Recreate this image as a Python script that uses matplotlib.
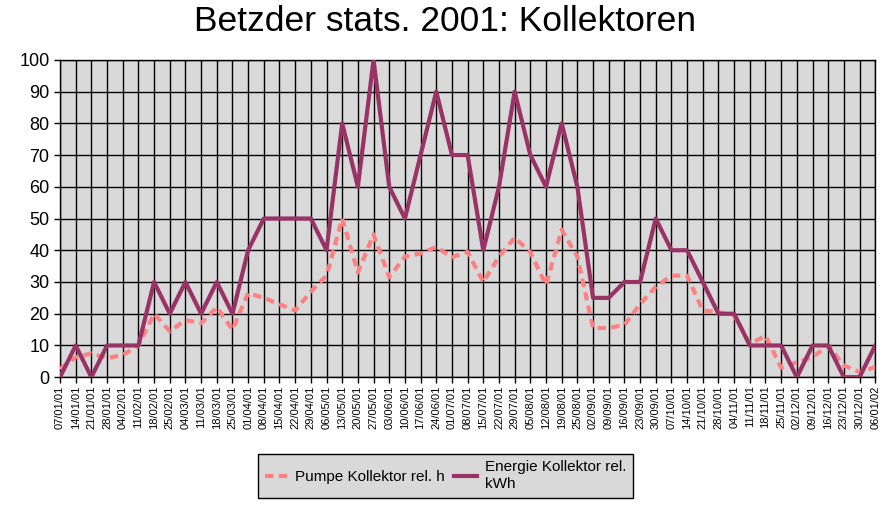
import matplotlib.pyplot as plt
import numpy as np

plt.rcParams['font.family'] = ['Liberation Sans', 'DejaVu Sans']

weeks = ['07/01/01', '14/01/01', '21/01/01', '28/01/01', '04/02/01', '11/02/01',
         '18/02/01', '25/02/01', '04/03/01', '11/03/01', '18/03/01', '25/03/01',
         '01/04/01', '08/04/01', '15/04/01', '22/04/01', '29/04/01', '06/05/01',
         '13/05/01', '20/05/01', '27/05/01', '03/06/01', '10/06/01', '17/06/01',
         '24/06/01', '01/07/01', '08/07/01', '15/07/01', '22/07/01', '29/07/01',
         '05/08/01', '12/08/01', '19/08/01', '25/08/01', '02/09/01', '09/09/01',
         '16/09/01', '23/09/01', '30/09/01', '07/10/01', '14/10/01', '21/10/01',
         '28/10/01', '04/11/01', '11/11/01', '18/11/01', '25/11/01', '02/12/01',
         '09/12/01', '16/12/01', '23/12/01', '30/12/01', '06/01/02']

pumpe = [2.6, 6.3, 7.5, 6, 7, 10, 20, 14.5, 18, 17, 22, 15,
         26.5, 25, 23, 21, 27, 32, 50, 33, 45, 31.5, 38, 39,
         41, 37.8, 39.5, 30, 38, 44, 39.4, 29, 46.5, 38, 15.5, 15.5,
         16.5, 23, 28.5, 32, 32, 21, 20.5, 19.5, 10.5, 13, 3, 4.7,
         6.3, 10, 3.7, 1.6, 3.2]

energie = [0, 10, 0, 10, 10, 10, 30, 20, 30, 20, 30, 20,
           40, 50, 50, 50, 50, 40, 80, 60, 100, 60, 50, 70,
           90, 70, 70, 40, 60, 90, 70, 60, 80, 60, 25, 25,
           30, 30, 50, 40, 40, 30, 20, 20, 10, 10, 10, 0,
           10, 10, 0, 0, 10]

x = np.arange(len(weeks))

fig = plt.figure(figsize=(8.89, 5.07), dpi=100)
ax = fig.add_axes([0.0675, 0.256, 0.917, 0.626])
ax.set_facecolor('#d9d9d9')

ax.plot(x, pumpe, color='#ff8080', lw=3, ls=(0, (2, 1.3)), label='Pumpe Kollektor rel. h', zorder=3)
ax.plot(x, energie, color='#993366', lw=3, label='Energie Kollektor rel.\nkWh', zorder=4)

ax.set_xlim(0, len(weeks) - 1)
ax.set_ylim(0, 100)
ax.set_yticks(range(0, 101, 10))
ax.set_xticks(x)
ax.set_xticklabels(weeks, rotation=90, fontsize=8)
ax.tick_params(axis='y', labelsize=13, length=4, width=1, color='black')
ax.tick_params(axis='x', length=4, width=1, color='black', pad=2)
ax.grid(True, color='black', lw=1)
ax.set_axisbelow(True)
for s in ax.spines.values():
    s.set_color('black')
    s.set_linewidth(1)

fig.suptitle('Betzder stats. 2001: Kollektoren', fontsize=25.5, y=0.99)

leg = fig.legend(loc='center', bbox_to_anchor=(0.501, 0.062), ncol=2, fontsize=11,
                 frameon=True, fancybox=False, facecolor='#d9d9d9', edgecolor='black',
                 handlelength=1.5, columnspacing=0.6, handletextpad=0.5, borderpad=0.45)
leg.get_frame().set_linewidth(1)
leg.get_frame().set_alpha(1)

fig.savefig('out.png', dpi=100)
